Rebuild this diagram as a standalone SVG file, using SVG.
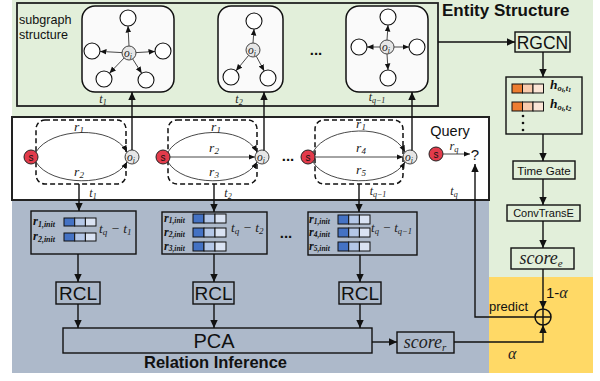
<svg xmlns="http://www.w3.org/2000/svg" width="600" height="381" viewBox="0 0 600 381">
<defs>
  <marker id="ah" markerWidth="9" markerHeight="9" refX="8" refY="4.5" orient="auto" markerUnits="userSpaceOnUse">
    <path d="M0,0.8 L8,4.5 L0,8.2 Z" fill="#111"/>
  </marker>
  <marker id="ahs" markerWidth="7" markerHeight="7" refX="6.5" refY="3.5" orient="auto" markerUnits="userSpaceOnUse">
    <path d="M0,0.7 L6.5,3.5 L0,6.3 Z" fill="#111"/>
  </marker>
  <style>
    .sans{font-family:"Liberation Sans",Arial,sans-serif;fill:#111;}
    .bold{font-family:"Liberation Sans",Arial,sans-serif;font-weight:bold;fill:#111;}
    .m{font-family:"Liberation Serif","DejaVu Serif",serif;font-style:italic;fill:#222;}
    .mb{font-family:"Liberation Serif","DejaVu Serif",serif;font-style:italic;font-weight:bold;fill:#111;}
    .ln{stroke:#111;stroke-width:1.4;fill:none;}
    .arr{stroke:#111;stroke-width:1.4;fill:none;marker-end:url(#ah);}
    .thin{stroke:#333;stroke-width:0.9;fill:none;marker-end:url(#ahs);}
    .sg{fill:#FAFAFA;stroke:#111;stroke-width:1.5;}
    .dash{fill:none;stroke:#111;stroke-width:1.5;stroke-dasharray:5 3;}
    .node{fill:#fff;stroke:#111;stroke-width:1.1;}
    .obj{fill:#E6E6E6;stroke:#444;stroke-width:1;}
    .subj{fill:#E23B4B;stroke:#222;stroke-width:1;}
    .gbox{fill:#E2EFDA;stroke:#111;stroke-width:1.4;}
    .bbox{fill:#ADB9CA;stroke:#111;stroke-width:1.4;}
    .c1{fill:#4472C4;stroke:#111;stroke-width:1;}
    .c2{fill:#B4C7E7;stroke:#111;stroke-width:1;}
    .c3{fill:#DAE3F3;stroke:#111;stroke-width:1;}
    .o1{fill:#ED7D31;stroke:#111;stroke-width:1;}
    .o2{fill:#F8CBAD;stroke:#111;stroke-width:1;}
    .o3{fill:#FBE5D6;stroke:#111;stroke-width:1;}
  </style>
</defs>

<!-- panel backgrounds -->
<g id="panels">
  <rect x="12" y="0" width="581" height="373" fill="#E2EFDA"/>
  <rect x="12" y="200" width="477" height="173" fill="#ADB9CA"/>
  <rect x="489" y="277" width="104" height="96" fill="#FFD966"/>
  <rect x="17" y="3" width="421" height="103" fill="none" stroke="#222" stroke-width="1.8"/>
  <rect x="12" y="117" width="477" height="83" fill="#fff" stroke="#222" stroke-width="2"/>
  <text class="bold" x="442" y="16" font-size="17">Entity Structure</text>
  <text class="bold" x="144" y="368" font-size="16.5">Relation Inference</text>
  <text class="sans" x="19" y="24" font-size="12.6">subgraph</text>
  <text class="sans" x="19" y="39" font-size="12.6">structure</text>
</g>

<!-- subgraph snapshots -->
<g id="subgraph-t1">
  <rect class="sg" x="82" y="6" width="92" height="86" rx="13"/>
  <path class="thin" d="M129,46 L128,26"/>
  <path class="thin" d="M122,52.6 L100,51.4"/>
  <path class="thin" d="M136,52.6 L155,51.5"/>
  <path class="thin" d="M124.1,58 L109.5,73.2"/>
  <path class="thin" d="M132.7,59 L141.7,73.2"/>
  <circle class="node" cx="128" cy="18" r="8"/>
  <circle class="node" cx="92" cy="51" r="8"/>
  <circle class="node" cx="163" cy="51" r="8"/>
  <circle class="node" cx="104" cy="79" r="8"/>
  <circle class="node" cx="146" cy="80" r="8"/>
  <circle class="obj" cx="129" cy="53" r="7"/>
  <text class="m" x="128" y="56.5" font-size="11.5" text-anchor="middle">o<tspan font-size="8" dy="2">i</tspan></text>
  <text class="m" x="103" y="103" font-size="12" text-anchor="middle">t<tspan font-size="8" dy="2">1</tspan></text>
</g>

<g id="subgraph-t2">
  <rect class="sg" x="218" y="6" width="65" height="86" rx="13"/>
  <path class="thin" d="M253,43 L254,29"/>
  <path class="thin" d="M248.6,55.4 L236,70.8"/>
  <path class="thin" d="M256.3,56.2 L264.2,71"/>
  <circle class="node" cx="254" cy="21" r="8"/>
  <circle class="node" cx="231" cy="77" r="8"/>
  <circle class="node" cx="268" cy="78" r="8"/>
  <circle class="obj" cx="253" cy="50" r="7"/>
  <text class="m" x="252" y="53.5" font-size="11.5" text-anchor="middle">o<tspan font-size="8" dy="2">i</tspan></text>
  <text class="m" x="239" y="103" font-size="12" text-anchor="middle">t<tspan font-size="8" dy="2">2</tspan></text>
</g>

<g id="subgraph-tq-1">
  <rect class="sg" x="346" y="6" width="82" height="86" rx="13"/>
  <path class="thin" d="M387,40 L388,25"/>
  <path class="thin" d="M380,47 L367,47"/>
  <path class="thin" d="M394,47 L409,47"/>
  <path class="thin" d="M387,54 L388,70"/>
  <circle class="node" cx="388" cy="17" r="8"/>
  <circle class="node" cx="359" cy="47" r="8"/>
  <circle class="node" cx="417" cy="47" r="8"/>
  <circle class="node" cx="388" cy="78" r="8"/>
  <circle class="obj" cx="387" cy="47" r="7"/>
  <text class="m" x="386" y="50.5" font-size="11.5" text-anchor="middle">o<tspan font-size="8" dy="2">i</tspan></text>
  <text class="m" x="377" y="101" font-size="12" text-anchor="middle">t<tspan font-size="8" dy="2">q−1</tspan></text>
</g>
<text class="bold" x="316" y="55" font-size="15" text-anchor="middle">...</text>

<!-- temporal snapshots of s -> o_i -->
<g id="snapshot-t1">
  <rect class="dash" x="36" y="120" width="90" height="64" rx="9"/>
  <path class="thin" d="M36,152 C50,128 112,124 127,152"/>
  <path class="thin" d="M36,162 C50,186 112,188 127,162"/>
  <circle class="subj" cx="31" cy="157" r="7"/>
  <text class="sans" x="31" y="161" font-size="10" text-anchor="middle" fill="#fff">s</text>
  <circle class="obj" cx="132" cy="157" r="7"/>
  <text class="m" x="131" y="160.5" font-size="11.5" text-anchor="middle">o<tspan font-size="8" dy="2">i</tspan></text>
  <text class="m" x="79" y="131" font-size="13.5" text-anchor="middle">r<tspan font-size="9" dy="2">1</tspan></text>
  <text class="m" x="79" y="176" font-size="13.5" text-anchor="middle">r<tspan font-size="9" dy="2">2</tspan></text>
  <text class="m" x="93" y="197" font-size="12" text-anchor="middle">t<tspan font-size="8" dy="2">1</tspan></text>
</g>

<g id="snapshot-t2">
  <rect class="dash" x="168" y="120" width="89" height="64" rx="9"/>
  <path class="thin" d="M168,152 C182,128 242,124 257,152"/>
  <path class="thin" d="M170,157 L255,157"/>
  <path class="thin" d="M168,162 C182,186 242,188 257,162"/>
  <circle class="subj" cx="163" cy="157" r="7"/>
  <text class="sans" x="163" y="161" font-size="10" text-anchor="middle" fill="#fff">s</text>
  <circle class="obj" cx="262" cy="157" r="7"/>
  <text class="m" x="261" y="160.5" font-size="11.5" text-anchor="middle">o<tspan font-size="8" dy="2">i</tspan></text>
  <text class="m" x="216" y="131" font-size="13.5" text-anchor="middle">r<tspan font-size="9" dy="2">1</tspan></text>
  <text class="m" x="214" y="152" font-size="13.5" text-anchor="middle">r<tspan font-size="9" dy="2">2</tspan></text>
  <text class="m" x="214" y="176" font-size="13.5" text-anchor="middle">r<tspan font-size="9" dy="2">3</tspan></text>
  <text class="m" x="228" y="197" font-size="12" text-anchor="middle">t<tspan font-size="8" dy="2">2</tspan></text>
</g>
<text class="bold" x="288" y="161" font-size="15" text-anchor="middle">...</text>

<g id="snapshot-tq-1">
  <rect class="dash" x="315" y="120" width="88" height="64" rx="9"/>
  <path class="thin" d="M313,152 C327,126 390,122 405,152"/>
  <path class="thin" d="M315,157 L403,157"/>
  <path class="thin" d="M313,162 C327,186 390,188 405,162"/>
  <circle class="subj" cx="308" cy="157" r="7"/>
  <text class="sans" x="308" y="161" font-size="10" text-anchor="middle" fill="#fff">s</text>
  <circle class="obj" cx="410" cy="157" r="7"/>
  <text class="m" x="409" y="160.5" font-size="11.5" text-anchor="middle">o<tspan font-size="8" dy="2">i</tspan></text>
  <text class="m" x="361" y="128" font-size="13.5" text-anchor="middle">r<tspan font-size="9" dy="2">1</tspan></text>
  <text class="m" x="361" y="152" font-size="13.5" text-anchor="middle">r<tspan font-size="9" dy="2">4</tspan></text>
  <text class="m" x="361" y="174" font-size="13.5" text-anchor="middle">r<tspan font-size="9" dy="2">5</tspan></text>
  <text class="m" x="378" y="195" font-size="12" text-anchor="middle">t<tspan font-size="8" dy="2">q−1</tspan></text>
</g>

<g id="query">
  <text class="sans" x="450" y="136" font-size="14.5" text-anchor="middle">Query</text>
  <circle class="subj" cx="436" cy="154" r="7"/>
  <text class="sans" x="436" y="158" font-size="10" text-anchor="middle" fill="#fff">s</text>
  <path class="thin" d="M443,154 L470,154"/>
  <text class="m" x="454" y="150" font-size="12.5" text-anchor="middle">r<tspan font-size="8.5" dy="2">q</tspan></text>
  <text class="sans" x="475" y="160" font-size="15" text-anchor="middle">?</text>
  <text class="m" x="454" y="195" font-size="12" text-anchor="middle">t<tspan font-size="8" dy="2">q</tspan></text>
</g>

<!-- relation evolution inputs -->
<g id="rel-t1">
  <rect class="bbox" x="31" y="211" width="105" height="43"/>
  <text class="mb" x="33" y="225" font-size="12.5">r<tspan font-size="8" dy="1.5">1,init</tspan></text>
  <rect class="c1" x="64" y="218" width="10.7" height="8"/><rect class="c2" x="74.7" y="218" width="10.7" height="8"/><rect class="c3" x="85.4" y="218" width="10.6" height="8"/>
  <text class="mb" x="33" y="240" font-size="12.5">r<tspan font-size="8" dy="1.5">2,init</tspan></text>
  <rect class="c1" x="64" y="233" width="10.7" height="8"/><rect class="c2" x="74.7" y="233" width="10.7" height="8"/><rect class="c3" x="85.4" y="233" width="10.6" height="8"/>
  <text class="m" x="99" y="233" font-size="13.5">t<tspan font-size="9" dy="2">q</tspan><tspan dy="-2"> − t</tspan><tspan font-size="9" dy="2">1</tspan></text>
</g>

<g id="rel-t2">
  <rect class="bbox" x="162" y="212" width="105" height="42"/>
  <text class="mb" x="164" y="221.5" font-size="12">r<tspan font-size="7.5" dy="1">1,init</tspan></text>
  <rect class="c1" x="193" y="214" width="11" height="9"/><rect class="c2" x="204" y="214" width="11" height="9"/><rect class="c3" x="215" y="214" width="11" height="9"/>
  <text class="mb" x="164" y="235.5" font-size="12">r<tspan font-size="7.5" dy="1">2,init</tspan></text>
  <rect class="c1" x="193" y="228" width="11" height="9"/><rect class="c2" x="204" y="228" width="11" height="9"/><rect class="c3" x="215" y="228" width="11" height="9"/>
  <text class="mb" x="164" y="249.5" font-size="12">r<tspan font-size="7.5" dy="1">3,init</tspan></text>
  <rect class="c1" x="193" y="242" width="11" height="9"/><rect class="c2" x="204" y="242" width="11" height="9"/><rect class="c3" x="215" y="242" width="11" height="9"/>
  <text class="m" x="231" y="232" font-size="13.5">t<tspan font-size="9" dy="2">q</tspan><tspan dy="-2"> − t</tspan><tspan font-size="9" dy="2">2</tspan></text>
</g>
<text class="bold" x="286" y="238" font-size="15" text-anchor="middle">...</text>

<g id="rel-tq-1">
  <rect class="bbox" x="308" y="212" width="109" height="43"/>
  <text class="mb" x="309" y="222.5" font-size="12">r<tspan font-size="7.5" dy="1">1,init</tspan></text>
  <rect class="c1" x="338" y="215" width="10.7" height="9"/><rect class="c2" x="348.7" y="215" width="10.7" height="9"/><rect class="c3" x="359.4" y="215" width="10.6" height="9"/>
  <text class="mb" x="309" y="235.5" font-size="12">r<tspan font-size="7.5" dy="1">4,init</tspan></text>
  <rect class="c1" x="338" y="228" width="10.7" height="9"/><rect class="c2" x="348.7" y="228" width="10.7" height="9"/><rect class="c3" x="359.4" y="228" width="10.6" height="9"/>
  <text class="mb" x="309" y="249.5" font-size="12">r<tspan font-size="7.5" dy="1">5,init</tspan></text>
  <rect class="c1" x="338" y="242" width="10.7" height="9"/><rect class="c2" x="348.7" y="242" width="10.7" height="9"/><rect class="c3" x="359.4" y="242" width="10.6" height="9"/>
  <text class="m" x="371" y="232" font-size="13">t<tspan font-size="8.5" dy="2">q</tspan><tspan dy="-2"> − t</tspan><tspan font-size="8.5" dy="2">q−1</tspan></text>
</g>

<g id="rcl-1"><rect class="bbox" x="56" y="282" width="44" height="22"/><text class="sans" x="78" y="300" font-size="19" text-anchor="middle">RCL</text></g>
<g id="rcl-2"><rect class="bbox" x="193" y="282" width="41" height="22"/><text class="sans" x="213.5" y="300" font-size="19" text-anchor="middle">RCL</text></g>
<g id="rcl-3"><rect class="bbox" x="339" y="282" width="42" height="22"/><text class="sans" x="360" y="300" font-size="19" text-anchor="middle">RCL</text></g>

<g id="pca"><rect class="bbox" x="63" y="328" width="309" height="25"/><text class="sans" x="214" y="348" font-size="20" text-anchor="middle">PCA</text></g>

<g id="score-r"><rect class="bbox" x="397" y="332" width="57" height="21"/><text class="m" x="425" y="348" font-size="18" text-anchor="middle">score<tspan font-size="11" dy="3">r</tspan></text></g>

<!-- entity branch -->
<g id="rgcn"><rect class="gbox" x="515" y="32" width="55" height="20"/><text class="sans" x="542.5" y="49" font-size="17.5" text-anchor="middle">RGCN</text></g>

<g id="entity-embeddings">
  <rect class="gbox" x="506" y="77" width="76" height="57"/>
  <rect class="o1" x="512" y="84" width="10.5" height="9"/><rect class="o2" x="522.5" y="84" width="10.5" height="9"/><rect class="o3" x="533" y="84" width="10.5" height="9"/>
  <rect class="o1" x="512" y="102" width="10.5" height="9"/><rect class="o2" x="522.5" y="102" width="10.5" height="9"/><rect class="o3" x="533" y="102" width="10.5" height="9"/>
  <text class="mb" x="550" y="89" font-size="13.5">h<tspan font-size="8.5" dy="2">o</tspan><tspan font-size="6.5" dy="1">i</tspan><tspan font-size="8.5" dy="-1">,t</tspan><tspan font-size="6.5" dy="1">1</tspan></text>
  <text class="mb" x="550" y="108" font-size="13.5">h<tspan font-size="8.5" dy="2">o</tspan><tspan font-size="6.5" dy="1">i</tspan><tspan font-size="8.5" dy="-1">,t</tspan><tspan font-size="6.5" dy="1">2</tspan></text>
  <circle cx="523" cy="116" r="1.3" fill="#111"/>
  <circle cx="523" cy="123" r="1.3" fill="#111"/>
  <circle cx="523" cy="130" r="1.3" fill="#111"/>
</g>

<g id="time-gate"><rect class="gbox" x="513" y="161" width="62" height="18"/><text class="sans" x="544" y="174.5" font-size="11.5" text-anchor="middle">Time Gate</text></g>
<g id="convtranse"><rect class="gbox" x="507" y="205" width="73" height="16"/><text class="sans" x="543.5" y="217" font-size="11" text-anchor="middle">ConvTransE</text></g>
<g id="score-e"><rect class="gbox" x="511" y="248" width="63" height="21"/><text class="m" x="541" y="264" font-size="18" text-anchor="middle">score<tspan font-size="11" dy="3">e</tspan></text></g>

<g id="combine">
  <circle cx="543" cy="317" r="8" fill="none" stroke="#111" stroke-width="1.5"/>
  <path class="ln" d="M535,317 H551 M543,309 V325"/>
  <text class="sans" x="546" y="298" font-size="15">1-<tspan class="m" font-size="16">α</tspan></text>
  <text class="m" x="508" y="359" font-size="16">α</text>
  <text class="sans" x="489" y="311" font-size="13">predict</text>
</g>

<!-- connectors -->
<g id="connectors">
  <path class="arr" d="M132,150 V92"/>
  <path class="arr" d="M264,150.5 V92"/>
  <path class="arr" d="M412,150.5 V92"/>
  <path class="arr" d="M79,184 V211"/>
  <path class="arr" d="M214,184 V212"/>
  <path class="arr" d="M359,184 V212"/>
  <path class="arr" d="M78,254 V282"/>
  <path class="arr" d="M214,254 V282"/>
  <path class="arr" d="M360,255 V282"/>
  <path class="arr" d="M78,304 V328"/>
  <path class="arr" d="M214,304 V328"/>
  <path class="arr" d="M360,304 V328"/>
  <path class="arr" d="M372,342 H397"/>
  <path class="arr" d="M454,342 H543 V325"/>
  <path class="arr" d="M438,42 H515"/>
  <path class="arr" d="M543,52 V77"/>
  <path class="arr" d="M543,134 V161"/>
  <path class="arr" d="M543,179 V205"/>
  <path class="arr" d="M543,221 V248"/>
  <path class="arr" d="M543,269 V309"/>
  <path class="arr" d="M535,317 H475 V164"/>
</g>
</svg>
